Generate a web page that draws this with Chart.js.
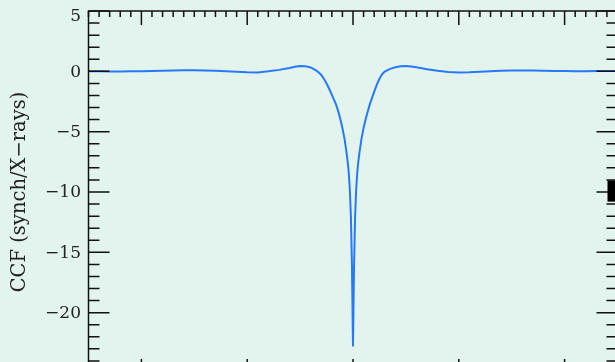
<!DOCTYPE html>
<html>
<head>
<meta charset="utf-8">
<script src="https://cdn.jsdelivr.net/npm/chart.js@4"></script>
<style>
    html, body { margin: 0; padding: 0; overflow: hidden; background: #e3f4ee; }
    #wrap { width: 615px; height: 362px; overflow: hidden; }
    #ccf-chart { display: block; }
</style>
</head>
<body>
<div id="wrap"><canvas id="ccf-chart" width="640" height="400"></canvas></div>
<script>
// lag (x) and cross-correlation value (y)
const lags = [
    -250, -240, -230, -220, -210, -200, -190, -180, -170, -160, -150, -140, -130, -120, -110,
    -100, -90, -80, -70, -60, -55, -50, -45, -40, -35, -32, -30, -28, -26, -24, -22, -20,
    -18, -16, -14, -12, -10, -8, -6, -5, -4, -3, -2, -1, 0,
    1, 2, 3, 4, 5, 6, 8, 10, 12, 14, 16, 18, 20, 22, 24, 26, 28, 30, 35, 40, 45, 50, 55, 60,
    70, 80, 90, 100, 110, 120, 130, 140, 150, 160, 170, 180, 190, 200, 210, 220, 230, 240, 250
];
const ccf = [
    0.00, 0.00, -0.01, -0.01, 0.00, 0.01, 0.03, 0.05, 0.07, 0.08, 0.08, 0.07, 0.04, 0.00, -0.04,
    -0.08, -0.09, 0.00, 0.12, 0.28, 0.38, 0.44, 0.42, 0.32, 0.08, -0.12, -0.30, -0.55, -0.85, -1.18, -1.55, -1.95,
    -2.35, -2.75, -3.30, -3.95, -4.70, -5.60, -6.80, -7.50, -8.40, -9.80, -12.0, -16.0, -22.8,
    -16.0, -12.0, -9.8, -8.4, -7.5, -6.8, -5.6, -4.7, -3.95, -3.3, -2.7, -2.2, -1.7, -1.22, -0.8, -0.45, -0.20, -0.02, 0.20, 0.34, 0.42, 0.44, 0.40, 0.33,
    0.18, 0.05, -0.05, -0.10, -0.08, -0.04, 0.00, 0.04, 0.06, 0.07, 0.06, 0.05, 0.03, 0.02, 0.01, 0.01, 0.02, 0.03, 0.03
];
const yTicks = [-25, -20, -15, -10, -5, 0, 5];
const xMajor = [-200, -100, 0, 100, 200];
const yTitle = 'CCF (synch/X\u2212rays)';

const BG = '#e3f4ee';
const INK = '#111111';
const LINE = 'rgb(38, 122, 250)';

function minus(v) {
    return v < 0 ? '\u2212' + Math.abs(v) : String(v);
}

// IDL style frame: box with inward major/minor ticks on all four sides
const frame = {
    id: 'frame',
    beforeDraw(chart) {
        const ctx = chart.ctx;
        ctx.save();
        ctx.fillStyle = BG;
        ctx.fillRect(0, 0, chart.width, chart.height);
        ctx.restore();
    },
    afterDraw(chart) {
        const { ctx, chartArea: a, scales: { x, y } } = chart;
        ctx.save();
        ctx.strokeStyle = INK;
        ctx.lineWidth = 1.5;
        ctx.strokeRect(a.left, a.top, a.right - a.left, a.bottom - a.top);

        ctx.beginPath();
        for (let v = x.min; v <= x.max; v += 10) {
            const px = x.getPixelForValue(v);
            const len = xMajor.includes(v) ? 14 : 6;
            ctx.moveTo(px, a.top); ctx.lineTo(px, a.top + len);
            ctx.moveTo(px, a.bottom); ctx.lineTo(px, a.bottom - len);
        }
        for (let v = y.min; v <= y.max; v += 1) {
            const py = y.getPixelForValue(v);
            const len = yTicks.includes(v) ? 21 : 11;
            ctx.moveTo(a.left, py); ctx.lineTo(a.left + len, py);
            ctx.moveTo(a.right, py); ctx.lineTo(a.right - len, py);
        }
        ctx.stroke();

        // clipped block at the right edge (neighbouring panel)
        ctx.fillStyle = '#000';
        const top = y.getPixelForValue(-9.05);
        const bot = y.getPixelForValue(-10.8);
        ctx.fillRect(a.right - 10, top, 30, bot - top);
        ctx.restore();
    }
};

new Chart(document.getElementById('ccf-chart'), {
    type: 'line',
    data: {
        datasets: [{
            data: lags.map((l, i) => ({ x: l, y: ccf[i] })),
            borderColor: LINE,
            borderWidth: 2,
            pointRadius: 0,
            tension: 0,
            fill: false
        }]
    },
    options: {
        responsive: false,
        animation: false,
        events: [],
        layout: { padding: { top: 11, right: 22.5, left: 0, bottom: 0 } },
        plugins: { legend: { display: false }, tooltip: { enabled: false } },
        scales: {
            x: {
                type: 'linear',
                min: -250,
                max: 250,
                grid: { display: false },
                border: { display: false },
                ticks: { display: false },
                afterFit(scale) {
                    scale.height = 27;
                    scale.paddingLeft = 0;
                    scale.paddingRight = 0;
                }
            },
            y: {
                min: -25,
                max: 5,
                afterBuildTicks(scale) { scale.ticks = yTicks.map(v => ({ value: v })); },
                grid: { display: false, drawTicks: false },
                border: { display: false },
                ticks: {
                    color: '#222',
                    padding: 7.5,
                    labelOffset: 1,
                    // top label sits just under the frame, as in the original
                    font: ctx => ({
                        family: 'DejaVu Serif',
                        size: 17,
                        lineHeight: ctx.tick && ctx.tick.value === 5 ? '10px' : 1.2
                    }),
                    callback: v => v === 5 ? ['', minus(v)] : minus(v)
                },
                title: {
                    display: true,
                    text: yTitle,
                    color: '#222',
                    padding: { top: 8, bottom: 0 },
                    font: { family: 'DejaVu Serif', size: 19.5 }
                },
                afterFit(scale) {
                    scale.width = 88.5;
                    scale.paddingTop = 0;
                    scale.paddingBottom = 0;
                }
            }
        }
    },
    plugins: [frame]
});
</script>
</body>
</html>
